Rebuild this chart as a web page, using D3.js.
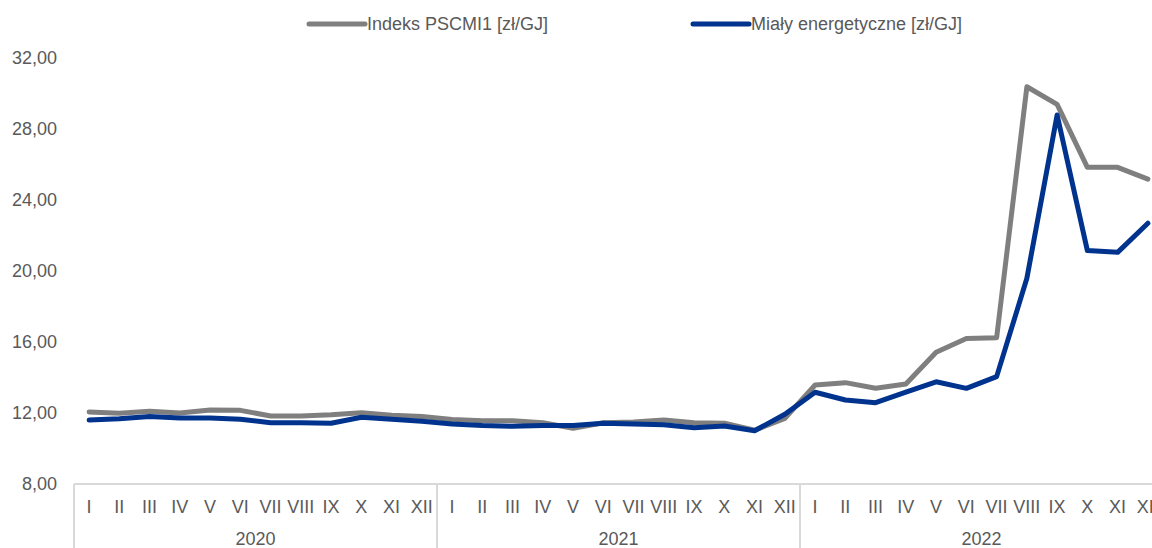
<!DOCTYPE html>
<html>
<head>
<meta charset="utf-8">
<script src="https://cdn.jsdelivr.net/npm/d3@7"></script>
<style>
  body { margin: 0; background: #fff; }
  svg { display: block; font-family: "Liberation Sans", Arial, sans-serif; }
  .lbl { fill: #595959; }
</style>
</head>
<body>
<div id="chart"></div>
<script>
// dane
var years = ["2020", "2021", "2022"];
var months = ["I","II","III","IV","V","VI","VII","VIII","IX","X","XI","XII"];
var yTicks = [8, 12, 16, 20, 24, 28, 32];

var pscmi = [12.06, 11.98, 12.1, 12.0, 12.17, 12.15, 11.83, 11.83, 11.9, 12.02, 11.87, 11.8,
             11.64, 11.57, 11.57, 11.45, 11.14, 11.45, 11.5, 11.6, 11.45, 11.42, 11.03, 11.7,
             13.58, 13.71, 13.39, 13.63, 15.42, 16.2, 16.24, 30.38, 29.39, 25.84, 25.84, 25.18];
var mialy = [11.6, 11.68, 11.8, 11.72, 11.72, 11.65, 11.45, 11.45, 11.42, 11.76, 11.65, 11.53,
             11.38, 11.29, 11.25, 11.29, 11.29, 11.42, 11.38, 11.34, 11.17, 11.27, 11.0, 11.93,
             13.17, 12.73, 12.58, 13.18, 13.76, 13.39, 14.05, 19.59, 28.79, 21.15, 21.05, 22.69];

var seriesNames = ["Indeks PSCMI1 [zł/GJ]", "Miały energetyczne [zł/GJ]"];
var seriesColors = ["#7f7f7f", "#00338d"];

var fullWidth = 1152, fullHeight = 548;
var margin = {top: 58, left: 74, bottom: 64};
var band = 30.25;
var fs = "18px";

var keys = [];
years.forEach(function(y) { months.forEach(function(m) { keys.push(y + "-" + m); }); });

var svg = d3.select("#chart").append("svg")
    .attr("width", fullWidth)
    .attr("height", fullHeight);

var xScale = d3.scaleBand().domain(keys).range([margin.left, margin.left + keys.length * band]);
var yScale = d3.scaleLinear().domain([8, 32]).range([fullHeight - margin.bottom, margin.top]);

// oś Y - tylko etykiety
svg.append("g").selectAll("text")
    .data(yTicks)
    .enter().append("text")
    .attr("class", "lbl")
    .attr("x", 57)
    .attr("y", function(d) { return yScale(d); })
    .attr("dy", "0.36em")
    .attr("text-anchor", "end")
    .style("font-size", fs)
    .text(function(d) { return d3.format(".2f")(d).replace(".", ","); });

// ramka osi X
var axisY = yScale(8);
var gridColor = "#d9d9d9";
svg.append("line")
    .attr("x1", margin.left).attr("x2", xScale.range()[1])
    .attr("y1", axisY).attr("y2", axisY)
    .attr("stroke", gridColor).attr("stroke-width", 2);

var seps = [0, 12, 24, 36];
svg.append("g").selectAll("line")
    .data(seps)
    .enter().append("line")
    .attr("x1", function(d) { return margin.left + d * band; })
    .attr("x2", function(d) { return margin.left + d * band; })
    .attr("y1", axisY).attr("y2", fullHeight)
    .attr("stroke", gridColor).attr("stroke-width", 2);

// miesiące
svg.append("g").selectAll("text")
    .data(keys)
    .enter().append("text")
    .attr("class", "lbl")
    .attr("x", function(d) { return xScale(d) + xScale.bandwidth() / 2; })
    .attr("y", 513)
    .attr("text-anchor", "middle")
    .style("font-size", fs)
    .text(function(d) { return d.split("-")[1]; });

// lata
svg.append("g").selectAll("text")
    .data(years)
    .enter().append("text")
    .attr("class", "lbl")
    .attr("x", function(d, i) { return margin.left + (i * 12 + 6) * band; })
    .attr("y", 545)
    .attr("text-anchor", "middle")
    .style("font-size", fs)
    .text(function(d) { return d; });

// linie
var line = d3.line()
    .x(function(d, i) { return xScale(keys[i]) + xScale.bandwidth() / 2; })
    .y(function(d) { return yScale(d); });

[pscmi, mialy].forEach(function(s, i) {
  svg.append("path")
      .datum(s)
      .attr("d", line)
      .attr("fill", "none")
      .attr("stroke", seriesColors[i])
      .attr("stroke-width", 5)
      .attr("stroke-linejoin", "round")
      .attr("stroke-linecap", "round");
});

// legenda
var legendX = [309, 693];
var legend = svg.append("g").selectAll("g")
    .data(seriesNames)
    .enter().append("g")
    .attr("transform", function(d, i) { return "translate(" + legendX[i] + ",24)"; });
legend.append("line")
    .attr("x1", 0).attr("x2", 56)
    .attr("stroke", function(d, i) { return seriesColors[i]; })
    .attr("stroke-width", 5)
    .attr("stroke-linecap", "round");
legend.append("text")
    .attr("class", "lbl")
    .attr("x", 58)
    .attr("dy", "0.36em")
    .style("font-size", fs)
    .text(function(d) { return d; });
</script>
</body>
</html>
